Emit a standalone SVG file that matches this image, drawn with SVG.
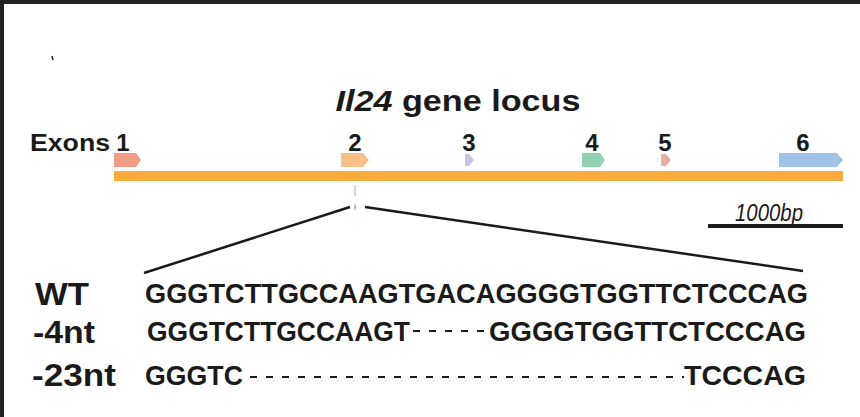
<svg xmlns="http://www.w3.org/2000/svg" width="860" height="417" viewBox="0 0 860 417">
<style>
text{font-family:"Liberation Sans",Arial,sans-serif;fill:#1a1a1a}
.b{font-weight:bold}
.seq{font-size:28px;font-weight:bold}
.lab{font-size:31px;font-weight:bold}
.num{font-size:24px;font-weight:bold;text-anchor:middle}
.dash{stroke:#1a1a1a;stroke-width:2.2;stroke-dasharray:7 9}
</style>
<rect width="860" height="417" fill="#fff"/>
<rect width="860" height="4" fill="#222"/>
<rect width="4" height="417" fill="#222"/>
<path d="M52 56 l1 4" stroke="#222" stroke-width="1.5"/>
<text x="458" y="111" class="b" font-size="30" text-anchor="middle" textLength="245" lengthAdjust="spacingAndGlyphs"><tspan font-style="italic">Il24</tspan> gene locus</text>
<text x="30" y="151" class="b" font-size="23" textLength="80" lengthAdjust="spacingAndGlyphs">Exons</text>
<text x="123" y="151" class="num">1</text>
<text x="355" y="151" class="num">2</text>
<text x="469" y="151" class="num">3</text>
<text x="592" y="151" class="num">4</text>
<text x="665" y="151" class="num">5</text>
<text x="803" y="151" class="num">6</text>
<g id="locus">
<rect x="114" y="171" width="729" height="10" fill="#f8ac3c"/>
</g>
<g id="exons">
<path id="e1" d="M114 153h22l5 7-5 7h-22z" fill="#ef9c84"/>
<path id="e2" d="M341 153h22l6 7-6 7h-22z" fill="#f8c087"/>
<path id="e3" d="M465 154h4l5 6-5 6h-4z" fill="#c8c6e6"/>
<path id="e4" d="M582 153h18l5 7-5 7h-18z" fill="#8fd3b4"/>
<path id="e5" d="M661 154h5l5 6-5 6h-5z" fill="#e8b0a4"/>
<path id="e6" d="M779 153h58l6 7-6 7h-58z" fill="#9fc3e6"/>
</g>
<g id="marks">
<rect x="354.5" y="185" width="1" height="11" fill="#c9a0a8"/>
<path d="M355 203l1.5 4-1.5 4-1-4z" fill="#8fc7b4"/>
</g>
<g id="connectors" stroke="#1a1a1a" stroke-width="2.5" fill="none">
<path d="M350 207L144 273"/>
<path d="M365 207L803 271"/>
</g>
<g id="scale">
<text x="769" y="221" font-size="23" font-style="italic" text-anchor="middle" textLength="68" lengthAdjust="spacingAndGlyphs">1000bp</text>
<rect x="708" y="224" width="135" height="4" fill="#1a1a1a"/>
</g>
<g id="wt">
<text x="35" y="305" class="lab" textLength="54" lengthAdjust="spacingAndGlyphs">WT</text>
<text x="145" y="303" class="seq" textLength="663" lengthAdjust="spacingAndGlyphs">GGGTCTTGCCAAGTGACAGGGGTGGTTCTCCCAG</text>
</g>
<g id="m4">
<text x="33" y="343" class="lab" textLength="62" lengthAdjust="spacingAndGlyphs">-4nt</text>
<text x="147" y="341" class="seq" textLength="263" lengthAdjust="spacingAndGlyphs">GGGTCTTGCCAAGT</text>
<path d="M413 331h76" class="dash"/>
<text x="489" y="341" class="seq" textLength="317" lengthAdjust="spacingAndGlyphs">GGGGTGGTTCTCCCAG</text>
</g>
<g id="m23">
<text x="32" y="386" class="lab" textLength="84" lengthAdjust="spacingAndGlyphs">-23nt</text>
<text x="145" y="385" class="seq" textLength="98" lengthAdjust="spacingAndGlyphs">GGGTC</text>
<path d="M250 377h434" class="dash"/>
<text x="684" y="385" class="seq" textLength="122" lengthAdjust="spacingAndGlyphs">TCCCAG</text>
</g>
</svg>
